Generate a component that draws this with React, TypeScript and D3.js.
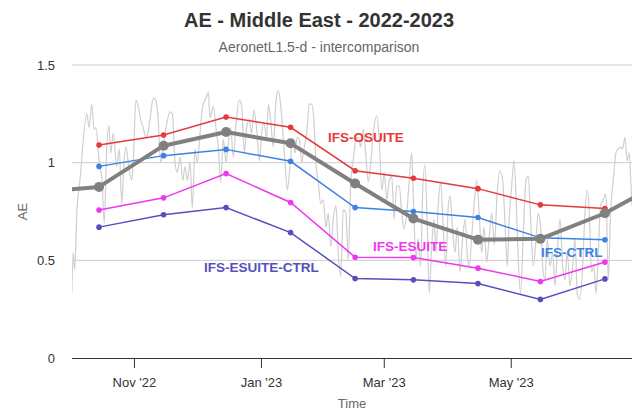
import React from "react";
import * as d3 from "d3";

// Monthly model / observation means (mid-month)
const monthDates = ["2022-10-15", "2022-11-15", "2022-12-15", "2023-01-15", "2023-02-15", "2023-03-15", "2023-04-15", "2023-05-15", "2023-06-15"];
const osuite = [1.09, 1.142, 1.234, 1.181, 0.959, 0.92, 0.867, 0.784, 0.765];
const ctrl = [0.981, 1.036, 1.068, 1.007, 0.77, 0.75, 0.719, 0.615, 0.605];
const esuite = [0.758, 0.82, 0.944, 0.796, 0.516, 0.514, 0.46, 0.392, 0.491];
const esuiteCtrl = [0.67, 0.733, 0.77, 0.642, 0.407, 0.4, 0.381, 0.3, 0.405];

// Observed monthly means (one month either side of the window)
const obsMonthDates = ["2022-09-15", ...monthDates, "2023-07-15"];
const obsMonthly = [0.848, 0.876, 1.087, 1.157, 1.099, 0.893, 0.714, 0.606, 0.61, 0.741, 0.915];

// Daily observations: days since 2022-10-01 and AE value
const dailyDay = [
  0.9, 1.6, 2.3, 3.3, 4.8, 8.1, 9.2, 10.5, 11.6, 12.5, 14.1, 15.4, 16.5, 17.7, 18.8, 19.6, 20.8, 22.5, 23.7, 24.9,
  26.0, 26.9, 28.0, 29.7, 30.4, 31.7, 32.8, 34.0, 35.2, 36.5, 37.6, 38.8, 40.0, 41.3, 42.4, 43.6, 44.8, 46.5, 48.1, 49.2,
  50.5, 51.6, 52.9, 54.2, 55.3, 56.4, 57.7, 58.8, 60.1, 61.2, 62.5, 63.8, 65.4, 66.5,
  67.3, 68.9, 70.2, 71.3, 72.4, 73.7, 75.0, 76.1, 77.2, 78.5, 79.8, 81.4, 82.5, 83.8, 84.9, 86.2, 87.3, 88.4, 89.7, 91.0,
  92.1, 93.2, 94.5, 95.3, 96.4, 97.7, 99.0, 100.1, 101.2, 102.2, 103.3, 104.4, 105.7, 107.0, 108.1, 109.2, 110.2, 111.3, 112.4, 113.7,
  115.0, 116.1, 117.2, 118.2, 119.3, 120.5, 121.7, 123.0, 124.1, 125.3, 126.5, 127.8, 128.9, 130.1, 131.3, 132.6, 133.7, 134.9,
  136.3, 137.4, 138.5, 139.7, 140.9, 142.2, 143.3, 144.5, 145.7, 147.4, 148.6, 149.8, 151.0, 152.2, 153.4, 154.6, 155.7, 157.0, 158.2, 159.4,
  160.5, 161.8, 163.0, 164.2, 165.3, 166.2, 167.3, 168.5, 169.4, 170.5, 171.7, 172.6, 173.8, 174.9, 175.8, 176.9, 178.1, 179.3, 180.6, 181.7,
  182.6, 183.9, 185.0, 186.1, 187.4, 188.7, 189.8, 190.9, 191.8, 193.0, 194.1, 195.4, 196.6, 197.8, 198.9, 200.2, 201.4, 202.6, 203.9,
  205.3, 206.6, 207.9, 209.0, 210.1, 211.0, 212.2, 213.3, 214.3, 215.4, 216.5, 217.8, 219.1, 220.2, 221.3, 222.6, 223.9, 225.0, 226.1, 227.1,
  228.2, 229.3, 230.6, 231.9, 233.0, 234.1, 235.4, 236.7, 237.8, 238.9, 240.2, 241.5, 242.6, 243.7, 245.0, 246.3, 247.4, 248.5, 249.5, 250.6,
  251.7, 252.7, 253.8, 254.9, 256.2, 257.5, 258.6, 259.7, 261.0, 262.3, 263.4, 264.5, 265.5, 266.6, 267.7, 268.7, 269.4, 270.0,
];
const dailyAE = [
  0.33, 0.54, 0.45, 0.74, 0.91, 1.25, 1.18, 1.3, 1.17, 1.18, 1.0, 0.91, 0.69, 1.08, 1.19, 1.05, 1.15, 0.98, 1.07, 0.79,
  1.01, 1.08, 1.0, 0.91, 1.0, 1.32, 1.29, 1.22, 1.18, 1.13, 1.16, 1.25, 1.33, 1.32, 1.22, 1.0, 1.08, 1.2, 1.26, 1.25,
  1.0, 0.95, 1.03, 0.91, 0.98, 0.91, 1.0, 0.77, 1.07, 1.0, 1.15, 1.29, 1.33, 1.36,
  1.23, 1.29, 1.17, 1.08, 0.9, 1.12, 1.0, 1.1, 1.18, 1.03, 1.2, 1.32, 1.29, 1.05, 1.18, 1.22, 1.15, 1.27, 1.17, 1.01,
  1.15, 1.2, 1.13, 1.3, 1.22, 1.08, 1.32, 1.37, 1.3, 1.17, 1.01, 0.86, 0.98, 1.12, 1.05, 1.13, 1.12, 1.0, 1.07, 1.15,
  1.3, 1.3, 1.22, 1.0, 0.9, 0.79, 0.81, 0.67, 0.74, 0.57, 0.71, 0.78, 0.54, 0.42, 0.76, 0.74, 0.5, 0.9,
  1.03, 1.12, 1.13, 1.08, 1.17, 1.03, 0.9, 1.0, 1.15, 1.24, 1.12, 0.86, 0.95, 0.81, 0.91, 0.93, 0.71, 0.88, 0.88, 0.74,
  0.66, 0.74, 0.91, 1.05, 0.71, 0.5, 0.61, 0.47, 0.83, 0.99, 0.66, 0.33, 0.57, 0.71, 0.54, 0.78, 0.9, 0.67, 0.47, 0.77,
  0.83, 0.64, 0.54, 0.67, 0.44, 0.62, 0.71, 0.52, 0.47, 0.62, 0.78, 0.91, 0.74, 0.54, 0.67, 0.49, 0.62, 0.74, 0.58,
  0.86, 0.96, 0.91, 0.69, 0.47, 0.71, 0.88, 1.01, 0.83, 0.49, 0.33, 0.64, 0.91, 0.93, 0.71, 0.47, 0.61, 0.74, 0.67, 0.47,
  0.4, 0.61, 0.47, 0.54, 0.37, 0.54, 0.71, 0.47, 0.4, 0.54, 0.37, 0.47, 0.61, 0.33, 0.3, 0.47, 0.74, 0.86, 0.74, 0.44,
  0.47, 0.33, 0.54, 0.78, 0.81, 0.84, 0.4, 0.74, 0.91, 1.05, 1.07, 1.08, 1.07, 1.13, 1.01, 1.05, 0.91, 0.78,
];

const yTicks = [0, 0.5, 1, 1.5];

const W = 632;
const H = 413;
const plot = { left: 72, right: 632, top: 65, bottom: 358 };

const parse = (s: string) => new Date(s + "T00:00:00Z");
const DAY = 864e5;
const origin = Date.UTC(2022, 9, 1);

const x = d3
  .scaleUtc()
  .domain([new Date(Date.UTC(2022, 9, 2)), new Date(Date.UTC(2023, 5, 28))])
  .range([plot.left, plot.right]);
const y = d3.scaleLinear().domain([0, 1.5]).range([plot.bottom, plot.top]);

const xTicks = x.ticks(d3.utcMonth.every(2) as any);
const fmt = d3.utcFormat("%b '%y");

type Pt = { date: Date; v: number };
const lineGen = d3
  .line<Pt>()
  .x((d) => x(d.date))
  .y((d) => y(d.v));

const monthly = (vals: number[], dates = monthDates): Pt[] => vals.map((v, i) => ({ date: parse(dates[i]), v }));

const dailyPts: Pt[] = dailyDay.map((d, i) => ({ date: new Date(origin + d * DAY), v: dailyAE[i] }));

const models = [
  { name: "IFS-OSUITE", color: "#e5393b", vals: osuite, lx: 328, ly: 142 },
  { name: "IFS-CTRL", color: "#3d82e3", vals: ctrl, lx: 541, ly: 256.5 },
  { name: "IFS-ESUITE", color: "#ee37ee", vals: esuite, lx: 373, ly: 250.5 },
  { name: "IFS-ESUITE-CTRL", color: "#5650bd", vals: esuiteCtrl, lx: 204, ly: 272 },
];

const FONT = "'Liberation Sans', Arial, Helvetica, sans-serif";

export default function App() {
  const dailyPath = d3.line<Pt>().x((d) => x(d.date)).y((d) => y(d.v)).curve(d3.curveMonotoneX)(dailyPts) || "";
  const obsPts = monthly(obsMonthly, obsMonthDates);
  return (
    <svg
      width={W}
      height={H}
      style={{ position: "absolute", left: 0, top: 0, background: "#fff", fontFamily: FONT }}
    >
      <defs>
        <clipPath id="plot-clip">
          <rect x={plot.left} y={plot.top - 10} width={plot.right - plot.left} height={plot.bottom - plot.top + 10} />
        </clipPath>
      </defs>

      <text x={319} y={27} textAnchor="middle" fontSize={20} fontWeight="bold" fill="#333">
        AE - Middle East - 2022-2023
      </text>
      <text x={319} y={51.5} textAnchor="middle" fontSize={14} fill="#666">
        AeronetL1.5-d - intercomparison
      </text>

      {/* grid */}
      {yTicks.filter((t) => t > 0).map((t) => (
        <line key={t} x1={plot.left} x2={plot.right} y1={y(t)} y2={y(t)} stroke="#cccccc" strokeWidth={1} />
      ))}
      {yTicks.map((t) => (
        <text key={t} x={55} y={y(t)} dy="0.35em" textAnchor="end" fontSize={13} fill="#333">
          {t}
        </text>
      ))}
      <text transform={`translate(27,${(plot.top + plot.bottom) / 2}) rotate(-90)`} textAnchor="middle" fontSize={13} fill="#666">
        AE
      </text>

      {/* x axis */}
      <line x1={plot.left} x2={plot.right} y1={plot.bottom + 0.5} y2={plot.bottom + 0.5} stroke="#333" strokeWidth={1} />
      {xTicks.map((t) => (
        <g key={+t}>
          <line x1={x(t)} x2={x(t)} y1={plot.bottom} y2={plot.bottom + 10} stroke="#333" />
          <text x={x(t)} y={387} textAnchor="middle" fontSize={13} fill="#333">
            {fmt(t)}
          </text>
        </g>
      ))}
      <text x={(plot.left + plot.right) / 2} y={408} textAnchor="middle" fontSize={13} fill="#666">
        Time
      </text>

      <g clipPath="url(#plot-clip)">
        <path d={dailyPath} fill="none" stroke="#cfcfcf" strokeWidth={1.2} />

        {models.map((m) => {
          const pts = monthly(m.vals);
          return (
            <g key={m.name}>
              <path d={lineGen(pts) || ""} fill="none" stroke={m.color} strokeWidth={1.5} />
              {pts.map((p, i) => (
                <circle key={i} cx={x(p.date)} cy={y(p.v)} r={2.8} fill={m.color} />
              ))}
            </g>
          );
        })}

        <path d={lineGen(obsPts) || ""} fill="none" stroke="#808080" strokeWidth={4} strokeLinejoin="round" />
        {obsPts.map((p, i) => (
          <circle key={i} cx={x(p.date)} cy={y(p.v)} r={5} fill="#808080" />
        ))}
      </g>

      {models.map((m) => (
        <text key={m.name} x={m.lx} y={m.ly} fontSize={13.5} fontWeight="bold" fill={m.color}>
          {m.name}
        </text>
      ))}
    </svg>
  );
}
